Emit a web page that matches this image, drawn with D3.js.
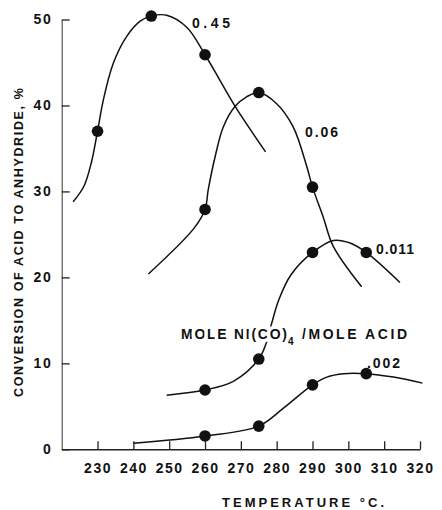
<!DOCTYPE html>
<html>
<head>
<meta charset="utf-8">
<script src="https://cdn.jsdelivr.net/npm/d3@7"></script>
<style>
  html, body { margin: 0; padding: 0; background: #fff; }
  svg { display: block; }
  text { font-family: "Liberation Sans", Arial, sans-serif; fill: #111; }
</style>
</head>
<body>
<svg id="chart" width="442" height="510"></svg>
<script>
// Temperature axis ticks (°C) and conversion axis ticks (%)
const xTicks = [230, 240, 250, 260, 270, 280, 290, 300, 310, 320];
const yTicks = [0, 10, 20, 30, 40, 50];

// Measured runs: temperature (°C) and conversion of acid to anhydride (%)
const temp045 = [230, 245, 260];
const conv045 = [37.0, 50.4, 45.9];
const temp006 = [260, 275, 290];
const conv006 = [27.9, 41.5, 30.5];
const temp0011 = [260, 275, 290, 305];
const conv0011 = [6.9, 10.5, 22.9, 22.9];
const temp0002 = [260, 275, 290, 305];
const conv0002 = [1.55, 2.7, 7.5, 8.8];

// Hand-faired curve guide points [temperature, conversion] between/beyond the runs
const guide045 = [[223.2, 28.8], [226.2, 30.6], [228.3, 33.4], [231.6, 40.6], [234.4, 44.9],
  [238.1, 48.0], [241.9, 49.8], [249.3, 50.5], [254.9, 49.1], [264.2, 42.9], [268.4, 39.9],
  [276.9, 34.6]];
const guide006 = [[244.2, 20.4], [256.9, 25.7], [260.9, 30.2], [262.8, 34.0],
  [265.1, 37.5], [268.4, 39.9], [271.6, 41.0], [280, 40.2], [284.6, 37.5], [288.4, 32.9],
  [293, 27.0], [295.8, 23.6], [303.7, 18.9]];
const guide0011 = [[249.3, 6.3], [267.9, 7.9], [277.2, 12.5], [278.7, 14.8], [280.6, 17.4],
  [284, 20.3], [295.8, 24.3], [300.5, 24.0], [314.4, 19.4]];
const guide0002 = [[240, 0.7], [281.9, 4.8], [294, 8.4], [298.6, 8.8], [312.6, 8.4], [320.7, 7.7]];

// Curve labels (mole Ni(CO)4 per mole acid)
const seriesLabels = ["0.45", "0.06", "0.011", ".002"];

const series = [
  { label: seriesLabels[0], temps: temp045, conv: conv045, guide: guide045,
    lx: 192, ly: 27.5, lw: 38 },
  { label: seriesLabels[1], temps: temp006, conv: conv006, guide: guide006,
    lx: 305, ly: 136.5, lw: 33 },
  { label: seriesLabels[2], temps: temp0011, conv: conv0011, guide: guide0011,
    lx: 376, ly: 254.3, lw: 38 },
  { label: seriesLabels[3], temps: temp0002, conv: conv0002, guide: guide0002,
    lx: 367, ly: 368, lw: 33 }
];

const svg = d3.select("#chart");

const x = d3.scaleLinear().domain([220, 320]).range([61.7, 420]);
const y = d3.scaleLinear().domain([0, 50]).range([449.3, 19.5]);

// Axes: ticks point into the plot
const xAxis = d3.axisBottom(x).tickValues(xTicks).tickFormat(d3.format("d"))
  .tickSizeInner(-8).tickSizeOuter(0).tickPadding(14);
const yAxis = d3.axisLeft(y).tickValues(yTicks).tickFormat(d3.format("d"))
  .tickSizeInner(-8).tickSizeOuter(0).tickPadding(8);

const gx = svg.append("g").attr("transform", `translate(0,${y(0)})`).call(xAxis);
const gy = svg.append("g").attr("transform", `translate(${x(220)},0)`).call(yAxis);

gx.selectAll("path.domain").attr("stroke", "#222").attr("stroke-width", 1.4);
gy.selectAll("path.domain").attr("stroke", "#444").attr("stroke-width", 1.1);
[gx, gy].forEach(g => {
  g.selectAll(".tick line").attr("stroke", "#222").attr("stroke-width", 1.3);
  g.selectAll(".tick text")
    .attr("fill", "#111")
    .style("font-family", "'Liberation Sans', Arial, sans-serif")
    .style("font-size", "14px")
    .style("font-weight", "bold")
    .style("letter-spacing", "1.5px");
});
gy.selectAll(".tick text").attr("x", -9.5);

// Axis titles
svg.append("text")
  .attr("x", 222).attr("y", 507)
  .attr("textLength", 162).attr("lengthAdjust", "spacing")
  .style("font-size", "13px").style("font-weight", "bold")
  .text("TEMPERATURE °C.");

svg.append("text")
  .attr("transform", "translate(23,242.5) rotate(-90)")
  .attr("text-anchor", "middle")
  .attr("textLength", 309).attr("lengthAdjust", "spacing")
  .style("font-size", "12.5px").style("font-weight", "bold")
  .text("CONVERSION OF ACID TO ANHYDRIDE, %");

// Curves and run markers
const line = d3.line()
  .x(d => x(d[0])).y(d => y(d[1]))
  .curve(d3.curveCatmullRom.alpha(0.5));

series.forEach(s => {
  const runs = s.temps.map((t, i) => [t, s.conv[i]]);
  const path = s.guide.concat(runs).sort((a, b) => a[0] - b[0]);
  svg.append("path")
    .attr("d", line(path))
    .attr("fill", "none")
    .attr("stroke", "#111")
    .attr("stroke-width", 1.5);
});

// Note naming the curve parameter, set over the 0.011 curve
const note = svg.append("g")
  .style("font-size", "14px").style("font-weight", "bold");
const haloStyle = sel => sel.attr("stroke", "#fff").attr("stroke-width", 7)
  .attr("paint-order", "stroke").attr("stroke-linejoin", "round");
note.append("text").attr("x", 181).attr("y", 338.5)
  .attr("textLength", 106).attr("lengthAdjust", "spacing")
  .call(haloStyle).text("MOLE NI(CO)");
note.append("text").attr("x", 288).attr("y", 345)
  .style("font-size", "10px").call(haloStyle).text("4");
note.append("text").attr("x", 302).attr("y", 338.5)
  .attr("textLength", 105).attr("lengthAdjust", "spacing")
  .call(haloStyle).text("/MOLE ACID");

series.forEach(s => {
  svg.append("g").selectAll("circle")
    .data(s.temps.map((t, i) => [t, s.conv[i]]))
    .join("circle")
    .attr("cx", d => x(d[0]))
    .attr("cy", d => y(d[1]))
    .attr("r", 5.8)
    .attr("fill", "#111");

  svg.append("text")
    .attr("x", s.lx).attr("y", s.ly)
    .attr("textLength", s.lw).attr("lengthAdjust", "spacing")
    .style("font-size", "14px").style("font-weight", "bold")
    .text(s.label);
});
</script>
</body>
</html>
